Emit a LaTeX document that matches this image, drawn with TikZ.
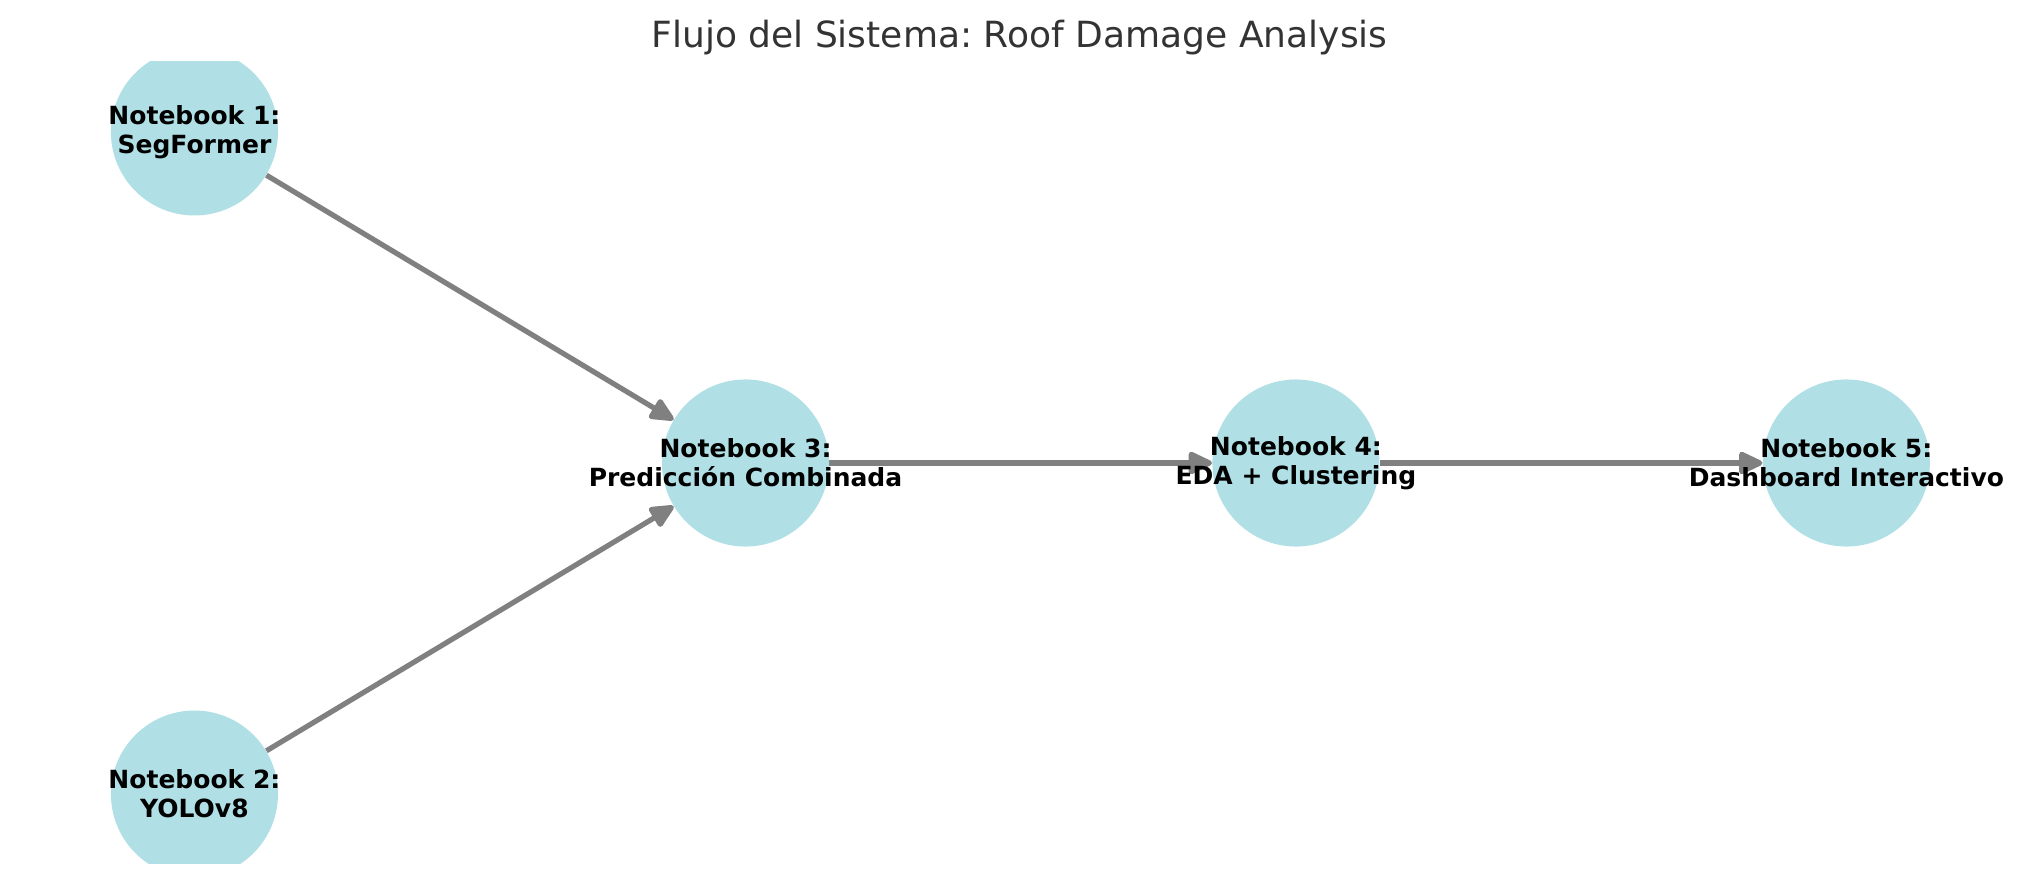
\documentclass[tikz,border=0pt]{standalone}
\usepackage{fontspec}
\setmainfont{DejaVu Sans}
\frenchspacing
\usetikzlibrary{arrows.meta,positioning,backgrounds}
\definecolor{nodefill}{RGB}{176,224,230}
\definecolor{edgegray}{RGB}{128,128,128}
\definecolor{titlegray}{RGB}{51,51,51}
\tikzset{
  nbcircle/.style={circle,fill=nodefill,minimum size=80.2pt,inner sep=0pt},
  nblabel/.style={align=center,inner sep=0pt,font=\bfseries\fontsize{12}{14}\selectfont},
  flowarrow/.style={-{Triangle[length=13pt,width=11.5pt,round]},line width=2.5pt,draw=edgegray},
}

\begin{document}
\begin{tikzpicture}[x=0.48pt,y=-0.48pt,on grid]
  \useasboundingbox (0,0) rectangle (2039,883);
  \node[font=\fontsize{17.3}{20}\selectfont,text=titlegray,anchor=base,inner sep=0pt] (title)
    at (1019.5,48) {Flujo del Sistema: Roof Damage Analysis};
  \begin{scope}
    \clip (0,62) rectangle (2039,863);
    \node[nbcircle,label={[nblabel]center:{Notebook 3:\\Predicción Combinada}}] (nb3)
      at (745.5,463) {};
    \node[nbcircle,above left=158.9pt and 264.5pt of nb3,
      label={[nblabel]center:{Notebook 1:\\SegFormer}}] (nb1) {};
    \node[nbcircle,below left=158.9pt and 264.5pt of nb3,
      label={[nblabel]center:{Notebook 2:\\YOLOv8}}] (nb2) {};
    \node[nbcircle,right=264.2pt of nb3,
      label={[nblabel]center:{Notebook 4:\\EDA + Clustering}}] (nb4) {};
    \node[nbcircle,right=264.2pt of nb4,
      label={[nblabel]center:{Notebook 5:\\Dashboard Interactivo}}] (nb5) {};
  \end{scope}
  \begin{pgfonlayer}{background}
    \draw[flowarrow] (nb1) -- (nb3);
    \draw[flowarrow] (nb2) -- (nb3);
    \draw[flowarrow] (nb3) -- (nb4);
    \draw[flowarrow] (nb4) -- (nb5);
  \end{pgfonlayer}
\end{tikzpicture}
\end{document}
